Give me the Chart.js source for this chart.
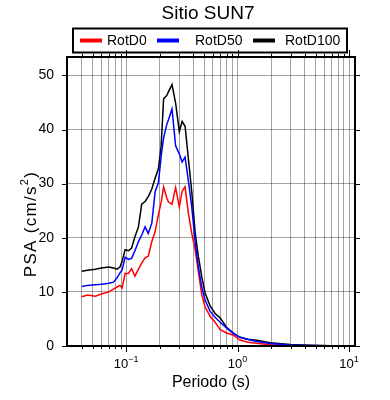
<!DOCTYPE html>
<html>
<head>
<meta charset="utf-8">
<script src="https://cdn.jsdelivr.net/npm/chart.js@4"></script>
<style>
  html, body { margin: 0; padding: 0; background: #fff; }
</style>
</head>
<body>
<canvas id="chart" width="390" height="400"></canvas>
<script>
// periods (s) and spectral accelerations (cm/s2)
const periods = [0.04, 0.045, 0.053, 0.06, 0.07, 0.077, 0.083, 0.088, 0.092, 0.098,
  0.105, 0.112, 0.12, 0.129, 0.138, 0.148, 0.158, 0.17, 0.182, 0.195,
  0.206, 0.217, 0.232, 0.24, 0.258, 0.278, 0.30, 0.318, 0.338, 0.362,
  0.388, 0.416, 0.445, 0.477, 0.511, 0.567, 0.628, 0.697, 0.80, 0.917,
  1.05, 1.24, 1.49, 1.96, 2.96, 4.46, 6.76, 10];
const rotD0 = [9.1, 9.4, 9.2, 9.6, 10.0, 10.5, 10.9, 11.2, 10.7, 13.4,
  13.4, 14.3, 12.9, 14.2, 15.3, 16.3, 16.6, 19.3, 21.1, 24.3,
  26.5, 29.4, 27.3, 26.6, 26.2, 29.3, 25.7, 28.6, 29.4, 24.5,
  20.8, 17.8, 13.7, 9.5, 7.2, 5.5, 4.4, 3.0, 2.4, 2.0,
  1.1, 0.7, 0.5, 0.25, 0.1, 0.05, 0.03, 0.02];
const rotD50 = [11.0, 11.2, 11.3, 11.4, 11.6, 11.8, 12.6, 13.5, 14.0, 16.4,
  16.0, 16.2, 17.6, 19.3, 20.5, 22.0, 20.8, 22.7, 28.5, 30.2,
  35.0, 38.5, 41.0, 41.8, 43.8, 37.0, 35.5, 34.0, 34.9, 30.5,
  25.7, 19.3, 14.6, 10.9, 8.5, 6.4, 5.3, 4.4, 3.3, 2.3,
  1.6, 1.2, 0.85, 0.45, 0.2, 0.1, 0.05, 0.02];
const rotD100 = [13.8, 14.0, 14.2, 14.4, 14.6, 14.4, 14.2, 14.6, 15.6, 17.8,
  17.6, 18.1, 20.2, 22.0, 26.2, 26.7, 27.6, 29.0, 31.0, 32.8,
  36.9, 45.7, 46.3, 47.0, 48.3, 44.9, 39.6, 41.5, 40.6, 34.6,
  28.5, 21.0, 16.5, 12.8, 9.8, 7.4, 6.0, 5.2, 3.4, 2.4,
  1.6, 1.25, 1.05, 0.6, 0.28, 0.13, 0.06, 0.03];

const seriesNames = ['RotD0', 'RotD50', 'RotD100'];
const xGrid = [0.04, 0.05, 0.06, 0.07, 0.08, 0.09,
  0.1, 0.2, 0.3, 0.4, 0.5, 0.6, 0.7, 0.8, 0.9,
  1, 2, 3, 4, 5, 6, 7, 8, 9, 10];
const xMajor = [0.1, 1, 10];
const xExp = ['\u22121', '0', '1'];
const yTicks = [0, 10, 20, 30, 40, 50];

const FAM = '"Liberation Sans", Arial, Helvetica, sans-serif';
const font = size => `${size}px ${FAM}`;
const gridColor = 'rgba(0,0,0,0.36)';

const pts = vals => periods.map((p, i) => ({ x: p, y: vals[i] }));

const decor = {
  id: 'decor',
  afterDraw(chart) {
    const { ctx, chartArea: a, scales: { x, y } } = chart;
    ctx.save();
    ctx.strokeStyle = '#000';
    ctx.fillStyle = '#000';

    // tick marks
    ctx.lineWidth = 1;
    ctx.beginPath();
    xGrid.forEach(v => {
      const px = Math.round(x.getPixelForValue(v)) + 0.5;
      const major = xMajor.includes(v);
      ctx.moveTo(px, a.bottom); ctx.lineTo(px, a.bottom + (major ? 6 : 3));
      ctx.moveTo(px, a.top); ctx.lineTo(px, a.top - (major ? 7 : 3));
    });
    yTicks.forEach(v => {
      const py = Math.round(y.getPixelForValue(v)) + 0.5;
      ctx.moveTo(a.left - 5, py); ctx.lineTo(a.left, py);
      ctx.moveTo(a.right, py); ctx.lineTo(a.right + 5, py);
    });
    ctx.stroke();

    // frame
    ctx.lineWidth = 2;
    ctx.strokeRect(a.left, a.top, a.right - a.left, a.bottom - a.top);

    // x labels 10^n
    ctx.textBaseline = 'alphabetic';
    ctx.textAlign = 'left';
    xMajor.forEach((v, i) => {
      const px = x.getPixelForValue(v);
      ctx.font = font(13);
      const w1 = ctx.measureText('10').width;
      ctx.font = font(9);
      const w2 = ctx.measureText(xExp[i]).width;
      const x0 = px - (w1 + w2) / 2;
      ctx.font = font(13);
      ctx.fillText('10', x0, 368);
      ctx.font = font(9);
      ctx.fillText(xExp[i], x0 + w1, 362);
    });

    // axis titles
    ctx.font = font(16);
    ctx.textAlign = 'center';
    ctx.textBaseline = 'middle';
    ctx.fillText('Periodo (s)', (a.left + a.right) / 2, 383);

    ctx.save();
    ctx.translate(30, 224);
    ctx.rotate(-Math.PI / 2);
    ctx.textBaseline = 'alphabetic';
    ctx.textAlign = 'left';
    ctx.letterSpacing = '1.3px';
    ctx.font = font(17);
    const p1 = 'PSA (cm/s', p2 = '2', p3 = ')';
    const w1 = ctx.measureText(p1).width;
    ctx.font = font(11);
    const w2 = ctx.measureText(p2).width;
    ctx.font = font(17);
    const w3 = ctx.measureText(p3).width;
    const s = -(w1 + w2 + w3) / 2;
    ctx.fillText(p1, s, 6);
    ctx.font = font(11);
    ctx.fillText(p2, s + w1, -2);
    ctx.font = font(17);
    ctx.fillText(p3, s + w1 + w2, 6);
    ctx.restore();

    // title
    ctx.font = font(19);
    ctx.textAlign = 'center';
    ctx.textBaseline = 'middle';
    ctx.fillText('Sitio SUN7', 208, 14);

    // legend
    ctx.lineWidth = 2;
    ctx.strokeRect(73, 28.5, 274, 24);
    const lineX = [80, 157, 253];
    const textX = [107, 195, 285];
    ctx.font = font(14);
    ctx.textAlign = 'left';
    chart.data.datasets.forEach((ds, i) => {
      ctx.strokeStyle = ds.borderColor;
      ctx.lineWidth = 4;
      ctx.beginPath();
      ctx.moveTo(lineX[i], 40.5); ctx.lineTo(lineX[i] + 22, 40.5);
      ctx.stroke();
      ctx.fillStyle = '#000';
      ctx.fillText(ds.label, textX[i], 41);
    });
    ctx.restore();
  }
};

new Chart(document.getElementById('chart'), {
  type: 'line',
  data: {
    datasets: [
      { label: seriesNames[0], data: pts(rotD0), borderColor: '#ff0000', order: 2 },
      { label: seriesNames[1], data: pts(rotD50), borderColor: '#0000ff', order: 0 },
      { label: seriesNames[2], data: pts(rotD100), borderColor: '#000000', order: 1 }
    ]
  },
  options: {
    responsive: false,
    animation: false,
    layout: { padding: { top: 57, right: 35, left: 0, bottom: 0 } },
    plugins: { legend: { display: false }, title: { display: false }, tooltip: { enabled: false } },
    elements: { point: { radius: 0 }, line: { borderWidth: 1.5, tension: 0, fill: false } },
    scales: {
      x: {
        type: 'logarithmic', min: 0.0295, max: 11.3, bounds: 'data',
        afterBuildTicks: s => { s.ticks = xGrid.map(v => ({ value: v })); },
        afterFit: s => { s.height = 54; },
        ticks: { display: false },
        grid: { color: gridColor, lineWidth: 1, drawTicks: false },
        border: { display: false }
      },
      y: {
        min: 0, max: 53.4,
        afterBuildTicks: s => { s.ticks = yTicks.map(v => ({ value: v })); },
        afterFit: s => { s.width = 67; },
        ticks: { font: { family: FAM, size: 14 }, color: '#000', padding: 13 },
        grid: { color: gridColor, lineWidth: 1, drawTicks: false },
        border: { display: false }
      }
    }
  },
  plugins: [decor]
});
</script>
</body>
</html>
